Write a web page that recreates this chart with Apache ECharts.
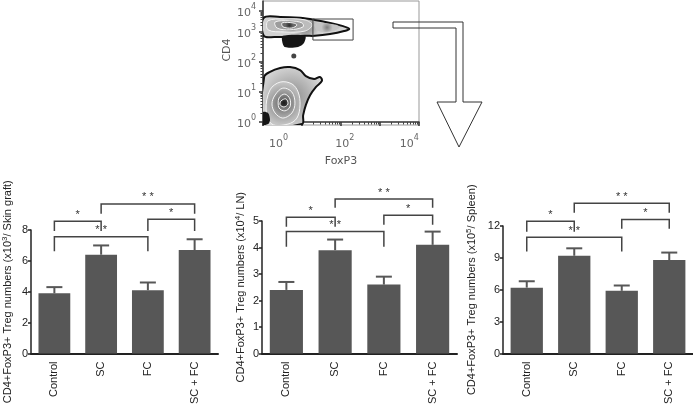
<!DOCTYPE html>
<html><head><meta charset="utf-8">
<script src="https://cdn.jsdelivr.net/npm/echarts@6/dist/echarts.min.js"></script>
<style>html,body{margin:0;padding:0;background:#fff}#c{width:693px;height:407px}</style>
</head><body><div id="c"></div>
<script>
// ---------- bar chart data ----------
const groups = ['Control', 'SC', 'FC', 'SC + FC'];
const skinMean = [3.9, 6.4, 4.1, 6.7];
const skinErr = [0.4, 0.6, 0.5, 0.7];
const lnMean = [2.4, 3.9, 2.6, 4.1];
const lnErr = [0.3, 0.4, 0.3, 0.5];
const spleenMean = [6.2, 9.2, 5.9, 8.8];
const spleenErr = [0.6, 0.7, 0.5, 0.7];

// significance brackets: pairs of group indices, label, heights (top line / end ticks) in axis units
const bracketPairs = [[0, 1], [0, 2], [1, 3], [2, 3]];
const bracketLabels = ['*', '* *', '* *', '*'];
const skinBracketTop = [8.56, 7.56, 9.69, 8.69];
const skinBracketEnd = [7.94, 6.63, 9.06, 7.94];
const lnBracketTop = [5.14, 4.60, 5.83, 5.22];
const lnBracketEnd = [4.78, 4.03, 5.50, 4.86];
const spleenBracketTop = [12.44, 10.93, 14.13, 12.62];
const spleenBracketEnd = [11.47, 9.60, 13.24, 11.73];

// ---------- flow cytometry plot data (display units) ----------
const flowXMajorTicks = [0, 1, 2, 3, 4];
const flowXLabelPos = [0.4, 2.1, 3.75];
const flowXLabelExp = ['0', '2', '4'];
const flowYTickPos = [0, 1, 2, 3, 3.7];
const flowYLabelExp = ['0', '1', '2', '3', '4'];

const lowerContours = [
  [[0.03,1.5],[0.18,1.67],[0.44,1.8],[0.69,1.83],[0.95,1.73],[1.10,1.53],[1.31,1.43],[1.46,1.5],[1.51,1.37],[1.36,1.17],[1.21,0.9],[1.10,0.57],[1.03,0.23],[1.0,-0.07],[0.03,-0.07]],
  [[0.18,1.07],[0.44,1.33],[0.74,1.27],[0.9,1.0],[0.95,0.57],[0.87,0.13],[0.64,-0.07],[0.23,-0.07],[0.08,0.4]],
  [[0.31,0.9],[0.51,1.13],[0.74,1.0],[0.82,0.63],[0.74,0.3],[0.51,0.13],[0.31,0.3],[0.23,0.6]],
  [[0.41,0.8],[0.56,0.93],[0.69,0.77],[0.69,0.5],[0.56,0.37],[0.41,0.47]],
  [[0.46,0.7],[0.59,0.77],[0.64,0.6],[0.54,0.5],[0.44,0.57]]
];
const upperContours = [
  [[0.02,3.47],[0.44,3.5],[0.95,3.47],[1.33,3.4],[1.72,3.3],[2.03,3.2],[2.21,3.1],[2.08,3.03],[1.72,2.93],[1.33,2.87],[1.08,2.87],[0.49,2.83],[0.31,2.83],[0.02,2.87]],
  [[0.13,3.37],[0.56,3.43],[1.08,3.4],[1.26,3.23],[1.08,3.03],[0.56,3.0],[0.13,3.07]],
  [[0.31,3.33],[0.69,3.37],[1.0,3.3],[1.03,3.17],[0.69,3.07],[0.36,3.13]],
  [[0.49,3.3],[0.77,3.3],[0.87,3.23],[0.74,3.13],[0.51,3.17]]
];
const gateBlob = [[1.33,3.27],[1.72,3.27],[1.97,3.17],[1.79,3.03],[1.41,3.03]];
const darkRegions = [
  [[0.51,2.87],[1.08,2.87],[1.05,2.63],[0.9,2.5],[0.56,2.5],[0.49,2.7]],
  [[0,0.33],[0.13,0.3],[0.18,0.07],[0.13,-0.07],[0,-0.07]]
];
const darkDots = [[0.79, 2.2]];
const gateRect = [[1.28, 3.43, 2.31, 2.73]];

// minor log ticks
const logFrac = [2,3,4,5,6,7,8,9].map(m => Math.log10(m));
const flowXMinor = [];
for (let d = 0; d < 4; d++) logFrac.forEach(f => flowXMinor.push(d + f));
const flowYMinor = [];
for (let k = 0; k < flowYTickPos.length - 1; k++) {
  const a = flowYTickPos[k], b = flowYTickPos[k + 1];
  logFrac.forEach(f => flowYMinor.push(a + f * (b - a)));
}

const FONT = 'Liberation Sans, Arial, sans-serif';
const FFONT = 'DejaVu Sans, sans-serif';
// zebra shading: [inner (darker), outer edge (lighter)] per contour band
const lowerFills = [['#8a8a8a', '#e2e2e2'], ['#777', '#c4c4c4'], ['#606060', '#aaaaaa'], ['#444', '#8a8a8a'], ['#1a1a1a', '#4a4a4a']];
const upperFills = [['#7c7c7c', '#d2d2d2'], ['#6c6c6c', '#bcbcbc'], ['#555', '#9c9c9c'], ['#2e2e2e', '#6a6a6a']];

function polyRender(contours, fills, outerStroke, innerStroke) {
  return function (params, api) {
    const i = params.dataIndex;
    const pts = contours[i].map(p => api.coord(p));
    return {
      type: 'polygon',
      shape: { points: pts, smooth: 0.35 },
      style: {
        fill: new echarts.graphic.RadialGradient(0.5, 0.5, 0.6, [
          { offset: 0, color: fills[i][0] }, { offset: 1, color: fills[i][1] }
        ]),
        stroke: i === 0 ? outerStroke : innerStroke, lineWidth: i === 0 ? 2 : 1
      }
    };
  };
}

function supRich(size) {
  return {
    b: { fontSize: size, fontFamily: FFONT, color: '#666', lineHeight: 16, verticalAlign: 'bottom' },
    s: { fontSize: size - 3, fontFamily: FFONT, color: '#666', lineHeight: 16, verticalAlign: 'top' }
  };
}

function errSeries(idx, mean, err) {
  return {
    type: 'custom', xAxisIndex: idx, yAxisIndex: idx, z: 3, clip: false,
    data: mean.map((m, i) => [i, m, m + err[i]]),
    renderItem: function (params, api) {
      const a = api.coord([api.value(0), api.value(1)]);
      const b = api.coord([api.value(0), api.value(2)]);
      const hw = 8;
      return {
        type: 'group', children: [
          { type: 'line', shape: { x1: a[0], y1: a[1], x2: b[0], y2: b[1] }, style: { stroke: '#575757', lineWidth: 2 } },
          { type: 'line', shape: { x1: b[0] - hw, y1: b[1], x2: b[0] + hw, y2: b[1] }, style: { stroke: '#575757', lineWidth: 2 } }
        ]
      };
    }
  };
}

function bracketSeries(idx, tops, ends) {
  return {
    type: 'custom', xAxisIndex: idx, yAxisIndex: idx, z: 4, clip: false,
    data: bracketPairs.map((p, k) => [p[0], p[1], tops[k], ends[k]]),
    renderItem: function (params, api) {
      const k = params.dataIndex;
      const p1 = api.coord([api.value(0), api.value(3)]);
      const p2 = api.coord([api.value(0), api.value(2)]);
      const p3 = api.coord([api.value(1), api.value(2)]);
      const p4 = api.coord([api.value(1), api.value(3)]);
      return {
        type: 'group', children: [
          { type: 'polyline', shape: { points: [p1, p2, p3, p4] }, style: { stroke: '#444', lineWidth: 1.5, fill: 'none' } },
          { type: 'text', style: { text: bracketLabels[k], x: (p2[0] + p3[0]) / 2, y: p2[1] - 1, align: 'center', verticalAlign: 'bottom', fontSize: 11, fontFamily: FONT, fill: '#333' } }
        ]
      };
    }
  };
}

const barGrids = [
  { left: 27, top: 230, width: 191, height: 128 },
  { left: 262, top: 221, width: 195, height: 139 },
  { left: 503, top: 226, width: 190, height: 135 }
];
const barY = [
  { max: 8, interval: 2, name: 'CD4+FoxP3+ Treg numbers (x10{s|3}/ Skin graft)', gap: 16 },
  { max: 5, interval: 1, name: 'CD4+FoxP3+ Treg numbers (x10{s|4}/ LN)', gap: 14 },
  { max: 12, interval: 3, name: 'CD4+FoxP3+ Treg numbers (x10{s|5}/ Spleen)', gap: 24 }
];
const titleRich = {
  s: { fontSize: 8, fontFamily: FONT, color: '#222', verticalAlign: 'top', lineHeight: 14 }
};

const xAxes = [
  { gridIndex: 0, type: 'value', min: 0, max: 4, position: 'bottom',
    axisLine: { show: true, lineStyle: { color: '#333', width: 1.5 } },
    axisTick: { show: true, customValues: flowXMajorTicks, length: 4, lineStyle: { color: '#333', width: 1.5 } },
    axisLabel: { show: true, customValues: flowXLabelPos, margin: 9,
      formatter: v => '{b|10}{s|' + flowXLabelExp[flowXLabelPos.indexOf(v)] + '}', rich: supRich(11) },
    splitLine: { show: false },
    name: 'FoxP3', nameLocation: 'middle', nameGap: 31,
    nameTextStyle: { fontFamily: FFONT, fontSize: 11, color: '#555' } },
  { gridIndex: 0, type: 'value', min: 0, max: 4, position: 'bottom',
    axisLine: { show: false }, axisLabel: { show: false }, splitLine: { show: false },
    axisTick: { show: true, customValues: flowXMinor, length: 2.5, lineStyle: { color: '#444', width: 1 } } }
];
const yAxes = [
  { gridIndex: 0, type: 'value', min: -0.1, max: 4.03, position: 'left',
    axisLine: { show: true, lineStyle: { color: '#333', width: 1.5 } },
    axisTick: { show: true, customValues: flowYTickPos, length: 4, lineStyle: { color: '#333', width: 1.5 } },
    axisLabel: { show: true, customValues: flowYTickPos, margin: 7,
      formatter: v => '{b|10}{s|' + flowYLabelExp[flowYTickPos.indexOf(v)] + '}', rich: supRich(11) },
    splitLine: { show: false },
    name: 'CD4', nameLocation: 'middle', nameGap: 27,
    nameTextStyle: { fontFamily: FFONT, fontSize: 11, color: '#555', padding: [0, 0, 0, 26] } },
  { gridIndex: 0, type: 'value', min: -0.1, max: 4.03, position: 'left',
    axisLine: { show: false }, axisLabel: { show: false }, splitLine: { show: false },
    axisTick: { show: true, customValues: flowYMinor, length: 2.5, lineStyle: { color: '#444', width: 1 } } }
];
barGrids.forEach((g, j) => {
  xAxes.push({
    gridIndex: j + 1, type: 'category', data: groups,
    axisLine: { lineStyle: { color: '#222', width: 2 } },
    axisTick: { alignWithLabel: true, length: 4, lineStyle: { color: '#222', width: 1.5 } },
    axisLabel: { rotate: 90, margin: 8, fontSize: 11, color: '#222', fontFamily: FONT }
  });
  yAxes.push({
    gridIndex: j + 1, type: 'value', min: 0, max: barY[j].max, interval: barY[j].interval,
    axisLine: { show: true, lineStyle: { color: '#222', width: 1.5 } },
    axisTick: { show: true, length: 3, lineStyle: { color: '#222', width: 1.5 } },
    axisLabel: { margin: 3, fontSize: 11, color: '#222', fontFamily: FONT },
    splitLine: { show: false },
    name: barY[j].name, nameLocation: 'middle', nameGap: barY[j].gap,
    nameTextStyle: { fontSize: 11, color: '#222', fontFamily: FONT, rich: titleRich }
  });
});

const barSets = [[skinMean, skinErr, skinBracketTop, skinBracketEnd],
                 [lnMean, lnErr, lnBracketTop, lnBracketEnd],
                 [spleenMean, spleenErr, spleenBracketTop, spleenBracketEnd]];

const series = [
  { type: 'custom', xAxisIndex: 0, yAxisIndex: 0, clip: true, z: 2,
    data: lowerContours.map((c, i) => [i]),
    renderItem: polyRender(lowerContours, lowerFills, '#111', '#f4f4f4') },
  { type: 'custom', xAxisIndex: 0, yAxisIndex: 0, clip: true, z: 2,
    data: upperContours.map((c, i) => [i]),
    renderItem: polyRender(upperContours, upperFills, '#111', '#f4f4f4') },
  { type: 'custom', xAxisIndex: 0, yAxisIndex: 0, clip: true, z: 2,
    data: [[0]],
    renderItem: function (params, api) {
      return { type: 'polygon', shape: { points: gateBlob.map(p => api.coord(p)), smooth: 0.4 },
        style: { fill: new echarts.graphic.RadialGradient(0.5, 0.5, 0.6, [
          { offset: 0, color: '#808080' }, { offset: 1, color: '#c4c4c4' }]) } };
    } },
  { type: 'custom', xAxisIndex: 0, yAxisIndex: 0, clip: true, z: 3,
    data: darkRegions.map((c, i) => [i]),
    renderItem: function (params, api) {
      return { type: 'polygon', shape: { points: darkRegions[params.dataIndex].map(p => api.coord(p)), smooth: 0.3 },
        style: { fill: '#151515' } };
    } },
  { type: 'scatter', xAxisIndex: 0, yAxisIndex: 0, data: darkDots, symbolSize: 5,
    itemStyle: { color: '#151515' }, z: 3 },
  { type: 'custom', xAxisIndex: 0, yAxisIndex: 0, clip: false, z: 4,
    data: gateRect,
    renderItem: function (params, api) {
      const a = api.coord([api.value(0), api.value(1)]);
      const b = api.coord([api.value(2), api.value(3)]);
      return { type: 'rect', shape: { x: a[0], y: a[1], width: b[0] - a[0], height: b[1] - a[1] },
        style: { fill: 'none', stroke: '#444', lineWidth: 1 } };
    } }
];
barSets.forEach((s, j) => {
  const idx = j + 2;
  series.push({ type: 'bar', xAxisIndex: idx, yAxisIndex: idx, data: s[0], barWidth: '68%',
    itemStyle: { color: '#575757' }, z: 2 });
  series.push(errSeries(idx, s[0], s[1]));
  series.push(bracketSeries(idx, s[2], s[3]));
});

const chart = echarts.init(document.getElementById('c'));
chart.setOption({
  animation: false,
  backgroundColor: '#fff',
  grid: [
    { left: 263, top: 1, width: 156, height: 124, show: true, borderColor: '#999', borderWidth: 1, backgroundColor: '#fff' },
    ...barGrids
  ],
  xAxis: xAxes,
  yAxis: yAxes,
  series: series,
  graphic: [
    { type: 'polygon', z: 10,
      shape: { points: [[393,22],[463,22],[463,102],[482,102],[459,147],[437,102],[456,102],[456,28],[393,28]] },
      style: { fill: 'none', stroke: '#333', lineWidth: 1 } }
  ]
});
</script>
</body></html>
